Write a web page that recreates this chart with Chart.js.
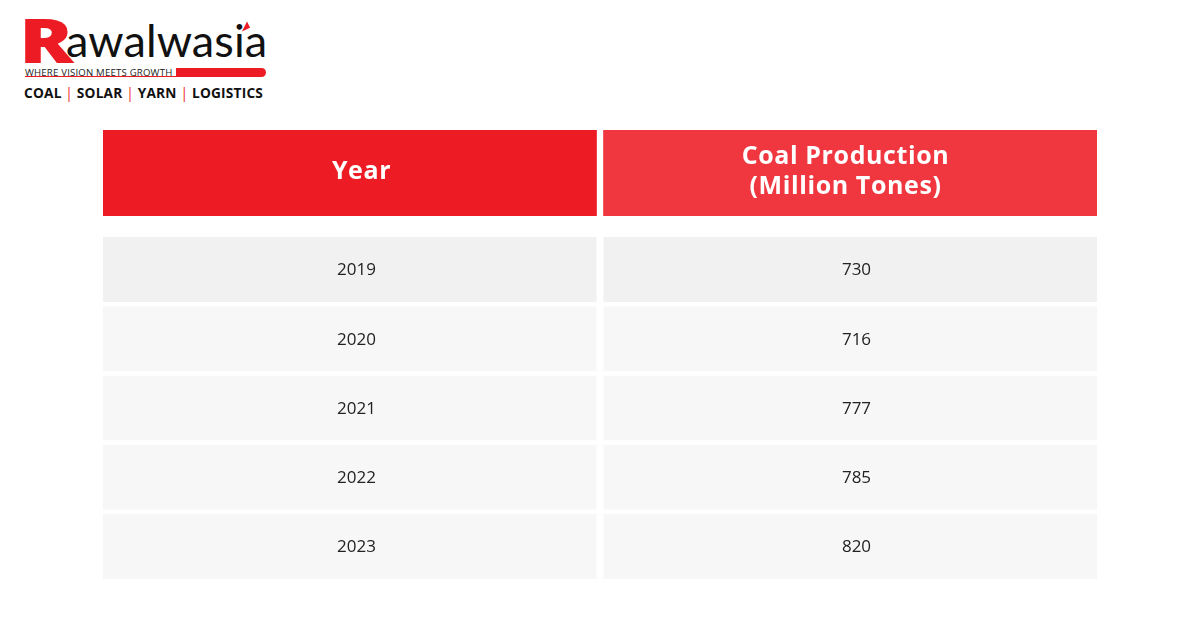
<!DOCTYPE html>
<html>
<head>
<meta charset="utf-8">
<script src="https://cdn.jsdelivr.net/npm/chart.js@4.4.1/dist/chart.umd.min.js"></script>
<style>
  html, body { margin: 0; padding: 0; background: #fff; }
  body { width: 1200px; height: 644px; position: relative; overflow: hidden; font-family: "Open Sans", sans-serif; }
  #logo { position: absolute; left: 22px; top: 14px; width: 260px; height: 90px; }
  #logo .r { position: absolute; left: -3px; top: -6px; font: 800 62px "Open Sans", sans-serif; color: #ED1C24; line-height: 1;
    transform: scaleX(1.3); transform-origin: left top; }
  #logo .name { position: absolute; left: 44px; top: 4px; font: 400 45px "Lato", sans-serif; color: #111; line-height: 1; letter-spacing: 0.1px; }
  #logo .tip { position: absolute; left: 218px; top: 9px; width: 0; height: 0;
    border-left: 9px solid transparent; border-bottom: 7px solid #ED1C24; transform: rotate(-25deg); }
  #logo .tag { position: absolute; left: 3px; top: 52px; font: 500 9.6px "Open Sans", sans-serif; color: #222; letter-spacing: 0.2px; white-space: nowrap; }
  #logo .line { position: absolute; left: 3px; top: 62px; width: 155px; height: 1px; background: #ED1C24; }
  #logo .bar { position: absolute; left: 154px; top: 54px; width: 90px; height: 9px; background: #ED1C24; border-radius: 0 5px 5px 0; }
  #logo .biz { position: absolute; left: 2px; top: 69px; font: 700 13.7px "Open Sans", sans-serif; color: #111; white-space: nowrap; letter-spacing: 0.2px; }
  #logo .biz span { color: #ED1C24; font-weight: 400; }
  #head { position: absolute; left: 103px; top: 130px; }
  #body { position: absolute; left: 103px; top: 235px; }
</style>
</head>
<body>
<div id="logo">
  <div class="r">R</div>
  <div class="name">awalwasia</div>
  <div class="tip"></div>
  <div class="tag">WHERE VISION MEETS GROWTH</div>
  <div class="line"></div>
  <div class="bar"></div>
  <div class="biz">COAL <span>|</span> SOLAR <span>|</span> YARN <span>|</span> LOGISTICS</div>
</div>
<canvas id="head" width="994" height="86"></canvas>
<canvas id="body" width="994" height="346"></canvas>
<script>
// table content
const headerLabels = ["Year", ["Coal Production", "(Million Tones)"]];
const years = ["2019", "2020", "2021", "2022", "2023"];
const production = [730, 716, 777, 785, 820];

// column spans on the x scale: column 0 -> [0,1], column 1 -> [1,2]
const colSpans = [[0, 1], [1, 2]];

const headerColors = ["#ED1C24", "#F0373F"];
const rowColors = ["#F1F1F1", "#F7F7F7", "#F7F7F7", "#F7F7F7", "#F7F7F7"];

// draws text inside each bar, centered on the bar element
const cellText = {
  id: "cellText",
  afterDatasetsDraw(chart, args, opts) {
    const ctx = chart.ctx;
    ctx.save();
    ctx.textAlign = "center";
    ctx.textBaseline = "middle";
    ctx.fillStyle = opts.color;
    ctx.font = opts.font;
    if (opts.spacing) ctx.letterSpacing = opts.spacing;
    chart.data.datasets.forEach((ds, di) => {
      const meta = chart.getDatasetMeta(di);
      meta.data.forEach((bar, i) => {
        const p = bar.getCenterPoint();
        let txt = ds.texts[i];
        const lines = Array.isArray(txt) ? txt : [String(txt)];
        const lh = opts.lineHeight;
        const y0 = p.y - (lines.length - 1) * lh / 2 + opts.dy;
        lines.forEach((l, k) => ctx.fillText(l, p.x + opts.dx[di], y0 + k * lh));
      });
    });
    ctx.restore();
  }
};

function tableChart(el, rows, datasets, barPct, textOpts) {
  return new Chart(el, {
    type: "bar",
    data: { labels: rows, datasets: datasets },
    options: {
      indexAxis: "y",
      responsive: false,
      animation: false,
      layout: { padding: 0 },
      scales: {
        x: { type: "linear", min: 0, max: 2, display: false },
        y: { type: "category", display: false }
      },
      datasets: { bar: { grouped: false, categoryPercentage: 1, barPercentage: barPct, borderSkipped: false } },
      plugins: { legend: { display: false }, tooltip: { enabled: false }, cellText: textOpts }
    },
    plugins: [cellText]
  });
}

const gapBorder = [{ top: 0, bottom: 0, left: 0, right: 3.5 }, { top: 0, bottom: 0, left: 3.5, right: 0 }];

tableChart(document.getElementById("head"), ["header"],
  [0, 1].map(c => ({
    data: [colSpans[c]],
    texts: [headerLabels[c]],
    backgroundColor: headerColors[c],
    borderColor: "#fff",
    borderWidth: gapBorder[c]
  })),
  1,
  { color: "#fff", font: "700 25px 'Open Sans', sans-serif", spacing: "0.6px", lineHeight: 30, dy: -1, dx: [10, -3] }
);

const columns = [years, production];
tableChart(document.getElementById("body"), years,
  [0, 1].map(c => ({
    data: years.map(() => colSpans[c]),
    texts: columns[c],
    backgroundColor: rowColors,
    borderColor: "#fff",
    borderWidth: gapBorder[c]
  })),
  65 / 69.25,
  { color: "#222", font: "400 17px 'Open Sans', sans-serif", lineHeight: 20, dy: 1, dx: [5, 8] }
);
</script>
</body>
</html>
